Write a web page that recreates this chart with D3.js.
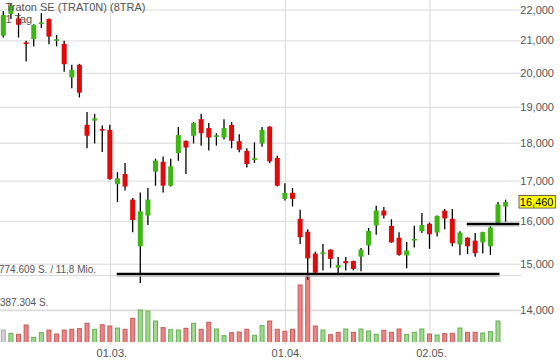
<!DOCTYPE html>
<html>
<head>
<meta charset="utf-8">
<script src="https://cdn.jsdelivr.net/npm/d3@7"></script>
<style>
  body { margin: 0; background: #fff; }
  svg { display: block; font-family: "Liberation Sans", Arial, sans-serif; }
</style>
</head>
<body>
<svg id="chart" width="560" height="362"></svg>
<script>
// daily candles, oldest first
const opens  = [21150,21850,21710,20920,21040,21540,21690,21000,20890,19860,
                20240,18490,18610,18360,18350,16910,17170,16520,15400,16130,
                17230,17490,16870,17720,18050,18190,18650,18400,18170,18140,
                18490,18040,17780,17550,17980,18440,17590,16540,16690,16050,
                15740,15230,15230,15320,14910,15060,15060,15160,15420,15890,
                16250,15880,15600,15190,15540,15750,15930,15720,16250,16050,
                15440,15600,15530,15490,15400,15940,16350];
const highs  = [21950,22220,21880,20990,21520,21880,21700,21170,20990,20240,
                20270,18850,18800,18470,18490,17220,17460,16560,16700,16810,
                17570,17630,17570,18430,18060,18570,18800,18540,18260,18650,
                18570,18230,17850,18010,18430,18450,17650,16930,16810,16270,
                15800,15270,15450,15330,15150,15150,15070,15360,15830,16370,
                16340,16040,15730,15500,15880,16190,15960,16130,16290,16290,
                15750,15610,15710,15740,15880,16460,16520];
const lows   = [21090,21690,21090,20340,20810,21390,20880,20810,20030,19540,
                19270,17850,17980,17750,17020,16460,16750,15730,14570,15900,
                16870,16700,16850,17520,17170,17980,17920,17790,17920,18090,
                17850,17740,17340,17460,17890,17460,16850,16500,16350,15450,
                14640,14790,14850,14910,14770,14850,14850,14830,15200,15670,
                16060,15480,15180,14900,15370,15710,15340,15630,15800,15400,
                15190,15220,15160,15230,15200,15920,15980];
const closes = [21820,22120,21500,20900,21500,21560,21120,21020,20260,20090,
                19410,18190,18670,18340,17040,17060,16850,16020,16230,16520,
                17520,16870,17370,18210,17870,18540,18260,18140,18190,18400,
                18050,17810,17430,17570,18350,17500,16870,16690,16540,15610,
                15120,14800,15250,15110,14970,15010,14880,15320,15760,16250,
                16130,15490,15200,15300,15560,15900,15680,16120,16060,15470,
                15720,15400,15240,15730,15840,16400,16460];
const volumes = [170000,134000,123000,225000,90000,141000,170000,126000,170000,178000,
                 185000,244000,178000,228000,214000,192000,178000,299000,390000,379000,
                 269000,196000,174000,170000,189000,244000,178000,255000,181000,108000,
                 141000,148000,178000,112000,218000,269000,178000,156000,178000,665000,
                 774609,214000,170000,119000,145000,181000,145000,181000,159000,123000,
                 167000,145000,181000,123000,145000,181000,126000,115000,130000,134000,
                 192000,145000,145000,137000,152000,269000,null];

const priceTicks = [14000,15000,16000,17000,18000,19000,20000,21000,22000];
const volTicks = [387304, 774609];
const tickIdx = [14, 37, 56];
const tickLabels = ["01.03.", "01.04.", "02.05."];

// drawn support lines: start index, end index, price
const lineFrom  = [14.9, 60.9];
const lineTo    = [65.2, 67.8];
const linePrice = [14770, 15930];

const plotRight = 521, plotBottom = 342;
const green = "#3db512", red = "#e00a0a";

const svg = d3.select("#chart");

const x = d3.scaleLinear().domain([0, closes.length - 1]).range([3.3, 505.6]);
const y = d3.scaleLog().domain([14000, 22000]).range([309.5, 9.5]);
const yVol = d3.scaleLinear().domain([0, 774609]).range([345.5, 275]);

svg.append("defs").append("clipPath").attr("id", "plot")
  .append("rect").attr("x", 0).attr("y", 0).attr("width", plotRight).attr("height", plotBottom);

// horizontal grid (price + volume)
svg.append("g")
  .call(d3.axisRight(y).tickValues(priceTicks).tickSize(plotRight).tickFormat(""))
  .call(g => g.select(".domain").remove())
  .call(g => g.selectAll("line").attr("stroke", "#d9d9d9"));
svg.append("g")
  .call(d3.axisRight(yVol).tickValues(volTicks).tickSize(plotRight).tickFormat(""))
  .call(g => g.select(".domain").remove())
  .call(g => g.selectAll("line").attr("stroke", "#d9d9d9"));

// vertical grid + date labels
svg.append("g")
  .attr("transform", `translate(0,${plotBottom + 3})`)
  .call(d3.axisBottom(x).tickValues(tickIdx).tickSize(-(plotBottom + 3)).tickPadding(4.5)
    .tickFormat((d, i) => tickLabels[i]))
  .call(g => g.select(".domain").remove())
  .call(g => g.selectAll("line").attr("stroke", "#d9d9d9"))
  .call(g => g.selectAll("text").attr("fill", "#555").attr("dx", 1.5)
    .attr("font-size", 11).attr("font-family", "Liberation Sans, Arial, sans-serif"));

// price labels on the right
svg.append("g")
  .attr("transform", "translate(556,0)")
  .call(d3.axisLeft(y).tickValues(priceTicks).tickSize(0).tickPadding(2).tickFormat(d3.format(",")))
  .call(g => g.select(".domain").remove())
  .call(g => g.selectAll("text").attr("fill", "#555")
    .attr("font-size", 11).attr("font-family", "Liberation Sans, Arial, sans-serif"));

// volume bars, coloured by close-to-close change
const volData = volumes.map((v, i) => ({ v, i })).filter(d => d.v != null);
svg.append("g").attr("clip-path", "url(#plot)")
  .selectAll("rect").data(volData).join("rect")
  .attr("x", d => x(d.i) - 2)
  .attr("width", 4)
  .attr("y", d => yVol(d.v))
  .attr("height", d => yVol(0) - yVol(d.v))
  .attr("fill", d => d.i === 0 ? "#d0d0d0" : closes[d.i] >= closes[d.i - 1] ? "#9fd98b" : "#ec8484")
  .attr("stroke", d => d.i === 0 ? "#a9a9a9" : closes[d.i] >= closes[d.i - 1] ? "#67ad55" : "#c65c5c")
  .attr("stroke-width", 1);

// candles
const cg = svg.append("g").attr("clip-path", "url(#plot)");
const idx = d3.range(closes.length);
cg.selectAll("line.wick").data(idx).join("line")
  .attr("class", "wick")
  .attr("x1", i => x(i)).attr("x2", i => x(i))
  .attr("y1", i => y(highs[i])).attr("y2", i => y(lows[i]))
  .attr("stroke", "#000").attr("stroke-width", 1.3);
cg.selectAll("rect.body").data(idx).join("rect")
  .attr("class", "body")
  .attr("x", i => x(i) - 2.5)
  .attr("width", 5)
  .attr("y", i => {
    const top = y(Math.max(opens[i], closes[i]));
    const h = Math.abs(y(opens[i]) - y(closes[i]));
    return h < 1.6 ? (top + h / 2 - 0.8) : top;
  })
  .attr("height", i => Math.max(1.6, Math.abs(y(opens[i]) - y(closes[i]))))
  .attr("fill", i => closes[i] >= opens[i] ? green : red);

// support lines
const lg = svg.append("g");
linePrice.forEach((p, k) => {
  lg.append("line")
    .attr("x1", x(lineFrom[k])).attr("x2", x(lineTo[k]))
    .attr("y1", y(p) + 2).attr("y2", y(p) + 2)
    .attr("stroke", "#b0b0b0").attr("stroke-width", 1.5);
  lg.append("line")
    .attr("x1", x(lineFrom[k])).attr("x2", x(lineTo[k]))
    .attr("y1", y(p)).attr("y2", y(p))
    .attr("stroke", "#000").attr("stroke-width", 2.2);
});

// last price box
const last = closes[closes.length - 1];
svg.append("rect")
  .attr("x", 519).attr("y", y(last) - 6.5).attr("width", 36.5).attr("height", 12.5)
  .attr("fill", "#ffff00").attr("stroke", "#444").attr("stroke-width", 0.8);
svg.append("text")
  .attr("x", 553.5).attr("y", y(last) + 4)
  .attr("text-anchor", "end").attr("font-size", 11).attr("fill", "#000")
  .text(d3.format(",")(last));

// volume labels
svg.append("text").attr("x", -1).attr("y", 273).attr("font-size", 10).attr("fill", "#555")
  .text("774.609 S. / 11,8 Mio.");
svg.append("text").attr("x", 0).attr("y", 306).attr("font-size", 10).attr("fill", "#555")
  .text("387.304 S.");

// title
svg.append("text").attr("x", 5.5).attr("y", 11).attr("font-size", 11).attr("fill", "#555")
  .text("Traton SE (TRAT0N) (8TRA)");
svg.append("text").attr("x", 5.5).attr("y", 22.5).attr("font-size", 11).attr("fill", "#555")
  .text("1 Tag");
</script>
</body>
</html>
